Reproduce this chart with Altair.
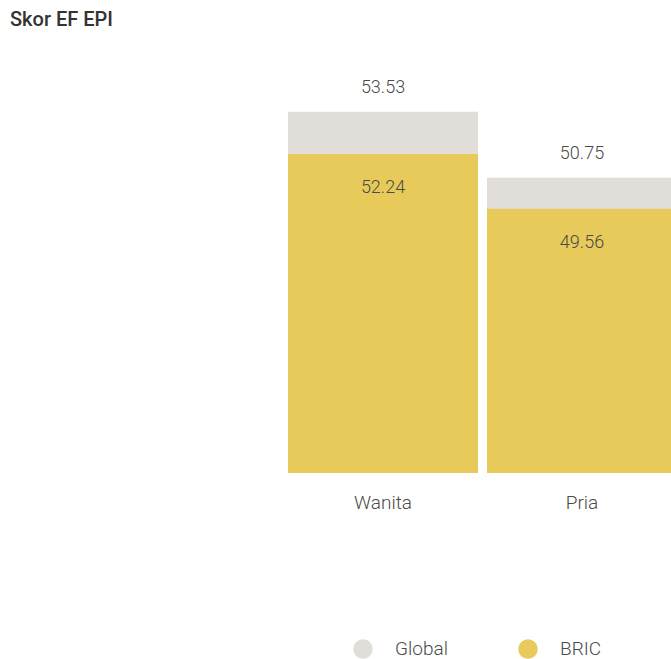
import altair as alt
import pandas as pd

groups = ["Wanita", "Pria"]
series = ["Global", "BRIC"]
global_scores = [53.53, 50.75]
bric_scores = [52.24, 49.56]
colors = ["#e1deda", "#e8ca5b"]
# axis ranges (the two series use different ranges)
global_domain = [38.31, 56.55]
bric_domain = [36.61, 57.83]

df = pd.DataFrame({
    "group": groups * 2,
    "series": ["Global"] * 2 + ["BRIC"] * 2,
    "value": global_scores + bric_scores,
})

FONT = "Roboto"
TXT = "#4a4a4a"

x = alt.X(
    "group:N", sort=groups, title=None,
    scale=alt.Scale(paddingInner=0.0452, paddingOuter=0),
    axis=alt.Axis(labelAngle=0, ticks=False, domain=False, grid=False,
                  labelPadding=20, labelFontSize=19, labelFont=FONT,
                  labelFontWeight=300, labelColor=TXT),
)
color = alt.Color(
    "series:N",
    scale=alt.Scale(domain=series, range=colors),
    legend=alt.Legend(
        title=None, orient="none", legendX=65, legendY=599,
        direction="horizontal", symbolType="circle", symbolSize=380,
        symbolStrokeWidth=0, symbolOpacity=1, labelFontSize=19, labelFont=FONT,
        labelFontWeight=300, labelColor=TXT, labelOffset=22, columnPadding=70,
    ),
)

base = alt.Chart(df).encode(x=x)

g = base.transform_filter(alt.datum.series == "Global")
gy = alt.Y("value:Q", scale=alt.Scale(domain=global_domain, zero=False, nice=False), axis=None)
g_bar = g.mark_bar(clip=True, opacity=1).encode(y=gy, color=color)
g_text = g.mark_text(dy=-24, baseline="middle", fontSize=18, font=FONT,
                     fontWeight=300, color=TXT).encode(
    y=gy, text=alt.Text("value:Q", format=".2f"))

b = base.transform_filter(alt.datum.series == "BRIC")
by = alt.Y("value:Q", scale=alt.Scale(domain=bric_domain, zero=False, nice=False), axis=None)
b_bar = b.mark_bar(clip=True, opacity=1).encode(y=by, color=color)
b_text = b.mark_text(dy=34, baseline="middle", fontSize=18, font=FONT,
                     fontWeight=300, color=TXT).encode(
    y=by, text=alt.Text("value:Q", format=".2f"))

chart = alt.layer(
    alt.layer(g_bar, g_text),
    alt.layer(b_bar, b_text),
).resolve_scale(y="independent").properties(
    width=389, height=433,
    title=alt.Title("Skor EF EPI", anchor="start", dx=-278, fontSize=20,
                    font=FONT, fontWeight=500, color="#333333", offset=10),
    padding={"left": 10, "top": 10, "right": -6, "bottom": 0},
).configure_view(stroke=None)

chart.save("out.html", embed_options={"renderer": "svg", "actions": False})
